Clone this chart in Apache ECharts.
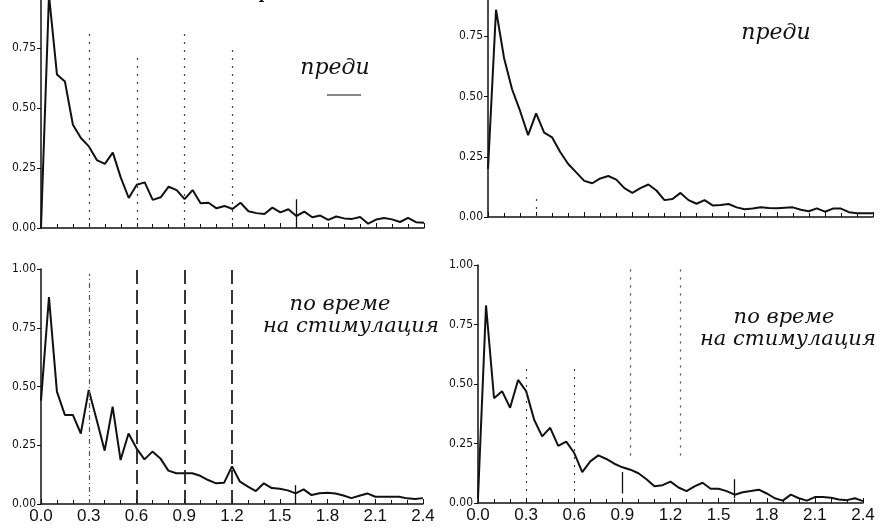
<!DOCTYPE html>
<html>
<head>
<meta charset="utf-8">
<script src="https://cdn.jsdelivr.net/npm/echarts@6/dist/echarts.min.js"></script>
<style>
html, body { margin: 0; padding: 0; background: #fff; }
#chart { width: 883px; height: 531px; }
</style>
</head>
<body>
<div id="chart"></div>
<script>
// frequency (Hz) at which every spectrum was sampled
const freqHz = [
  0.00, 0.05, 0.10, 0.15, 0.20, 0.25, 0.30, 0.35, 0.40, 0.45,
  0.50, 0.55, 0.60, 0.65, 0.70, 0.75, 0.80, 0.85, 0.90, 0.95,
  1.00, 1.05, 1.10, 1.15, 1.20, 1.25, 1.30, 1.35, 1.40, 1.45,
  1.50, 1.55, 1.60, 1.65, 1.70, 1.75, 1.80, 1.85, 1.90, 1.95,
  2.00, 2.05, 2.10, 2.15, 2.20, 2.25, 2.30, 2.35, 2.40
];

// left column
const beforeLeft = [
  0.00, 0.97, 0.64, 0.61, 0.43, 0.375, 0.34, 0.283, 0.267, 0.314,
  0.21, 0.125, 0.18, 0.19, 0.117, 0.128, 0.172, 0.158, 0.12, 0.158,
  0.103, 0.105, 0.082, 0.092, 0.079, 0.105, 0.07, 0.062, 0.058, 0.085,
  0.065, 0.078, 0.05, 0.068, 0.045, 0.052, 0.034, 0.048, 0.04, 0.038,
  0.046, 0.018, 0.035, 0.042, 0.036, 0.025, 0.042, 0.024, 0.022
];
const duringLeft = [
  0.44, 0.88, 0.478, 0.379, 0.379, 0.30, 0.485, 0.357, 0.227, 0.414,
  0.187, 0.30, 0.237, 0.19, 0.223, 0.194, 0.142, 0.131, 0.131, 0.131,
  0.12, 0.102, 0.088, 0.09, 0.16, 0.095, 0.074, 0.055, 0.088, 0.068,
  0.065, 0.058, 0.045, 0.062, 0.038, 0.046, 0.048, 0.045, 0.036, 0.025,
  0.035, 0.045, 0.031, 0.031, 0.031, 0.031, 0.024, 0.021, 0.025
];

// right column
const beforeRight = [
  0.20, 0.86, 0.66, 0.53, 0.44, 0.34, 0.43, 0.35, 0.33, 0.27,
  0.22, 0.185, 0.15, 0.14, 0.16, 0.17, 0.155, 0.12, 0.10, 0.12,
  0.135, 0.11, 0.07, 0.075, 0.10, 0.07, 0.055, 0.07, 0.048, 0.05,
  0.054, 0.04, 0.032, 0.035, 0.04, 0.037, 0.036, 0.038, 0.04, 0.03,
  0.024, 0.036, 0.022, 0.035, 0.035, 0.02, 0.016, 0.016, 0.016
];
const duringRight = [
  0.02, 0.83, 0.44, 0.47, 0.40, 0.517, 0.47, 0.35, 0.28, 0.316,
  0.24, 0.258, 0.21, 0.13, 0.175, 0.20, 0.185, 0.165, 0.15, 0.14,
  0.125, 0.10, 0.07, 0.075, 0.09, 0.065, 0.05, 0.07, 0.085, 0.06,
  0.06, 0.05, 0.035, 0.045, 0.05, 0.056, 0.04, 0.02, 0.01, 0.035,
  0.02, 0.01, 0.025, 0.025, 0.022, 0.015, 0.012, 0.02, 0.008
];

// dashed guides and the short marker line
const guideHz = [0.3, 0.6, 0.9, 1.2];
const markerHz = 1.6;

const INK = '#111';

const pairs = vals => freqHz.map((f, i) => [f, vals[i]]);

function xAxisFor(gridIndex, showLabels) {
  return {
    type: 'value', gridIndex, min: 0, max: 2.4, interval: 0.3,
    axisLine: { show: true, lineStyle: { color: INK, width: 1.5 } },
    axisTick: { show: true, inside: true, length: 5, lineStyle: { color: INK } },
    minorTick: { show: true, splitNumber: 3, length: 4, lineStyle: { color: INK } },
    splitLine: { show: false },
    axisLabel: {
      show: showLabels, color: INK, fontSize: 17, margin: 4,
      fontFamily: 'Liberation Sans',
      formatter: v => v.toFixed(1)
    }
  };
}

function yAxisFor(gridIndex) {
  return {
    type: 'value', gridIndex, min: 0, max: 1, interval: 0.25,
    axisLine: { show: true, lineStyle: { color: INK, width: 1.5 } },
    axisTick: { show: true, length: 4, lineStyle: { color: INK } },
    splitLine: { show: false },
    axisLabel: {
      color: INK, fontSize: 12, margin: 5,
      fontFamily: "'Liberation Sans Narrow', 'DejaVu Sans Condensed', sans-serif",
      formatter: v => v.toFixed(2)
    }
  };
}

function seg(x, y0, y1, style) {
  return [{ coord: [x, y0], lineStyle: style }, { coord: [x, y1] }];
}

const dotted = { color: '#444', width: 1.2, type: [2, 6] };
const longDash = { color: '#222', width: 1.8, type: [14, 6] };
const dashDot = { color: '#555', width: 1.2, type: [5, 3, 1, 3] };
const solid = { color: INK, width: 1.3, type: 'solid' };

function spectrum(idx, vals, marks) {
  return {
    type: 'line', xAxisIndex: idx, yAxisIndex: idx,
    data: pairs(vals), symbol: 'none',
    lineStyle: { color: INK, width: 2 },
    markLine: {
      silent: true, symbol: 'none', label: { show: false },
      data: marks
    }
  };
}

const chart = echarts.init(document.getElementById('chart'));
chart.setOption({
  backgroundColor: '#fff',
  animation: false,
  grid: [
    { left: 41, top: -12, width: 383, height: 240, outerBoundsMode: 'none' },
    { left: 488, top: -24, width: 385, height: 241, outerBoundsMode: 'none' },
    { left: 41, top: 269, width: 382, height: 235, outerBoundsMode: 'none' },
    { left: 478, top: 265, width: 385, height: 238, outerBoundsMode: 'none' }
  ],
  xAxis: [xAxisFor(0, false), xAxisFor(1, false), xAxisFor(2, true), xAxisFor(3, true)],
  yAxis: [yAxisFor(0), yAxisFor(1), yAxisFor(2), yAxisFor(3)],
  series: [
    spectrum(0, beforeLeft, [
      seg(guideHz[0], 0, 0.83, dotted),
      seg(guideHz[1], 0, 0.72, dotted),
      seg(guideHz[2], 0, 0.82, dotted),
      seg(guideHz[3], 0, 0.76, dotted),
      seg(markerHz, 0, 0.12, solid)
    ]),
    spectrum(1, beforeRight, [
      seg(guideHz[0], 0, 0.09, dotted)
    ]),
    spectrum(2, duringLeft, [
      seg(guideHz[0], 0, 0.98, dashDot),
      seg(guideHz[1], 0, 1.0, longDash),
      seg(guideHz[2], 0, 1.0, longDash),
      seg(guideHz[3], 0, 1.0, longDash),
      seg(markerHz, 0, 0.08, solid)
    ]),
    spectrum(3, duringRight, [
      seg(guideHz[0], 0.05, 0.58, dotted),
      seg(guideHz[1], 0.05, 0.57, dotted),
      seg(0.95, 0.2, 1.0, dotted),
      seg(1.26, 0.2, 1.0, dotted),
      seg(guideHz[2], 0.04, 0.13, solid),
      seg(markerHz, 0.02, 0.1, solid)
    ])
  ],
  graphic: [
    { type: 'text', x: 272, y: 3, style: { text: 'фон', fill: INK, font: 'bold 15px "DejaVu Serif"', align: 'center', textAlign: 'center', verticalAlign: 'bottom', textVerticalAlign: 'bottom' } },
    { type: 'text', x: 335, y: 68, style: { text: 'преди', fill: INK, font: 'italic 22px "DejaVu Serif"', align: 'center', textAlign: 'center', verticalAlign: 'middle', textVerticalAlign: 'middle' } },
    { type: 'line', shape: { x1: 327, y1: 95, x2: 361, y2: 95 }, style: { stroke: INK, lineWidth: 1.2 } },
    { type: 'text', x: 776, y: 33, style: { text: 'преди', fill: INK, font: 'italic 22px "DejaVu Serif"', align: 'center', textAlign: 'center', verticalAlign: 'middle', textVerticalAlign: 'middle' } },
    { type: 'text', x: 340, y: 305, style: { text: 'по време', fill: INK, font: 'italic 21px "DejaVu Serif"', align: 'center', textAlign: 'center', verticalAlign: 'middle', textVerticalAlign: 'middle' } },
    { type: 'text', x: 263, y: 327, style: { text: 'на стимулация', fill: INK, font: 'italic 21px "DejaVu Serif"', align: 'left', textAlign: 'left', verticalAlign: 'middle', textVerticalAlign: 'middle' } },
    { type: 'text', x: 784, y: 318, style: { text: 'по време', fill: INK, font: 'italic 21px "DejaVu Serif"', align: 'center', textAlign: 'center', verticalAlign: 'middle', textVerticalAlign: 'middle' } },
    { type: 'text', x: 700, y: 340, style: { text: 'на стимулация', fill: INK, font: 'italic 21px "DejaVu Serif"', align: 'left', textAlign: 'left', verticalAlign: 'middle', textVerticalAlign: 'middle' } }
  ]
});
</script>
</body>
</html>
